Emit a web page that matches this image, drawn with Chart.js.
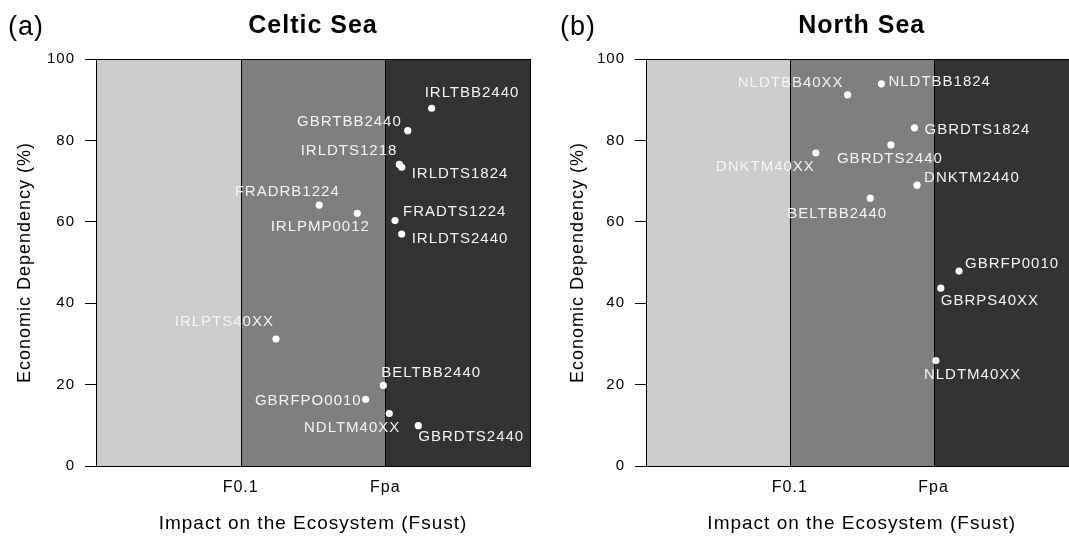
<!DOCTYPE html>
<html lang="en">
<head>
<meta charset="UTF-8">
<title>Economic Dependency vs Impact on the Ecosystem</title>
<script src="https://cdn.jsdelivr.net/npm/chart.js"></script>
<style>
    body {
        margin: 0;
        background: #fff;
        width: 1069px;
        height: 544px;
        overflow: hidden;
        position: relative;
    }
    canvas { position: absolute; top: 0; }
    #celtic { left: 0; }
    #north { left: 540px; }
</style>
</head>
<body>
<canvas id="celtic" width="540" height="544"></canvas>
<canvas id="north" width="541" height="544"></canvas>
<script>
// axis data
const xTickValues = [1, 2];
const xTickLabels = ['F0.1', 'Fpa'];
const bandEdges = [0, 1, 2, 3];
const yTickStep = 20;

// (a) Celtic Sea
const celticNames = ['IRLTBB2440', 'GBRTBB2440', 'IRLDTS1218', 'IRLDTS1824', 'FRADRB1224', 'IRLPMP0012',
    'FRADTS1224', 'IRLDTS2440', 'IRLPTS40XX', 'BELTBB2440', 'GBRFPO0010', 'NDLTM40XX', 'GBRDTS2440'];
const celticX = [2.32, 2.155, 2.097, 2.113, 1.543, 1.806, 2.067, 2.113, 1.244, 1.986, 1.864, 2.027, 2.228];
const celticY = [87.9, 82.4, 74.1, 73.4, 64.1, 62.1, 60.3, 57.0, 31.2, 19.8, 16.4, 12.9, 9.9];

// (b) North Sea
const northNames = ['NLDTBB40XX', 'NLDTBB1824', 'GBRDTS1824', 'GBRDTS2440', 'DNKTM40XX', 'DNKTM2440',
    'BELTBB2440', 'GBRFP0010', 'GBRPS40XX', 'NLDTM40XX'];
const northX = [1.402, 1.637, 1.867, 1.703, 1.181, 1.885, 1.559, 2.177, 2.05, 2.016];
const northY = [91.2, 93.9, 83.1, 78.9, 76.9, 69.0, 65.8, 47.9, 43.7, 25.9];

// label placement next to each point: [align, dx, dy]
const celticLabelPos = [['left', -7, -15], ['right', -6, -9], ['right', -2, -14], ['left', 10, 7],
    ['center', -32, -13], ['center', -37, 14], ['left', 8, -9], ['left', 10, 5], ['right', -2, -17],
    ['left', -2, -13], ['right', -4, 2], ['right', 11, 14], ['left', 0, 11]];
const northLabelPos = [['right', -4, -12], ['left', 7, -2], ['left', 10, 2], ['center', -1, 14],
    ['right', -1, 14], ['left', 7, -7], ['center', -33, 16], ['left', 6, -7], ['left', 0, 13], ['left', -12, 14]];

const bandColors = ['#cccccc', '#7f7f7f', '#333333'];
const FONT = "'Liberation Sans', Arial, sans-serif";

const spacingPlugin = {
    id: 'spacing',
    beforeDraw(chart) { chart.ctx.letterSpacing = '1px'; }
};

const bandsPlugin = {
    id: 'bands',
    beforeDatasetsDraw(chart) {
        const { ctx, chartArea: a } = chart;
        const xs = chart.scales.x;
        ctx.save();
        ctx.lineWidth = 1;
        ctx.strokeStyle = '#000';
        for (let i = 0; i < bandColors.length; i++) {
            const x0 = Math.round(xs.getPixelForValue(bandEdges[i])) + 0.5;
            const x1 = Math.round(xs.getPixelForValue(bandEdges[i + 1])) + 0.5;
            const t = Math.round(a.top) + 0.5, b = Math.round(a.bottom) + 0.5;
            ctx.fillStyle = bandColors[i];
            ctx.fillRect(x0, t, x1 - x0, b - t);
            ctx.strokeRect(x0, t, x1 - x0, b - t);
        }
        ctx.restore();
    }
};

const pointLabelsPlugin = {
    id: 'pointLabels',
    afterDatasetsDraw(chart, args, opts) {
        const { ctx } = chart;
        const meta = chart.getDatasetMeta(0);
        ctx.save();
        ctx.letterSpacing = '1px';
        ctx.font = '15px ' + FONT;
        ctx.fillStyle = '#f4f4f4';
        ctx.textBaseline = 'middle';
        meta.data.forEach((pt, i) => {
            const [align, dx, dy] = opts.pos[i];
            ctx.textAlign = align;
            ctx.fillText(opts.names[i], pt.x + dx, pt.y + dy);
        });
        ctx.restore();
    }
};

const headingPlugin = {
    id: 'heading',
    afterDraw(chart, args, opts) {
        const { ctx, chartArea: a } = chart;
        ctx.save();
        ctx.letterSpacing = '1px';
        ctx.fillStyle = '#000';
        ctx.textBaseline = 'middle';
        ctx.textAlign = 'left';
        ctx.font = '27px ' + FONT;
        ctx.fillText(opts.tag, opts.tagX, 28);
        ctx.textAlign = 'center';
        ctx.font = 'bold 25px ' + FONT;
        ctx.fillText(opts.title, (a.left + a.right) / 2, 26);
        ctx.restore();
    }
};

function makePanel(id, names, xs, ys, labelPos, tag, tagX, title, yAxisWidth, yTitlePad, padRight) {
    return new Chart(document.getElementById(id), {
        type: 'scatter',
        data: {
            datasets: [{
                data: xs.map((x, i) => ({ x: x, y: ys[i] })),
                pointRadius: 3.6,
                pointHoverRadius: 3.6,
                backgroundColor: '#ffffff',
                borderWidth: 0
            }]
        },
        options: {
            responsive: false,
            animation: false,
            layout: { padding: { top: 59, right: padRight, left: 0, bottom: 0 } },
            plugins: {
                legend: { display: false },
                tooltip: { enabled: false },
                pointLabels: { names: names, pos: labelPos },
                heading: { tag: tag, tagX: tagX, title: title }
            },
            scales: {
                x: {
                    type: 'linear',
                    min: bandEdges[0],
                    max: bandEdges[bandEdges.length - 1],
                    afterBuildTicks: s => { s.ticks = xTickValues.map(v => ({ value: v })); },
                    afterFit: s => { s.height = 78; },
                    ticks: {
                        callback: v => xTickLabels[xTickValues.indexOf(v)],
                        color: '#000',
                        font: { family: FONT, size: 16 },
                        padding: 12,
                        maxRotation: 0
                    },
                    grid: { drawOnChartArea: false, drawTicks: false },
                    border: { display: false },
                    title: {
                        display: true,
                        text: 'Impact on the Ecosystem (Fsust)',
                        color: '#000',
                        font: { family: FONT, size: 19 },
                        padding: { top: 0, bottom: 9 }
                    }
                },
                y: {
                    min: 0,
                    max: 100,
                    afterFit: s => { s.width = yAxisWidth; },
                    ticks: {
                        stepSize: yTickStep,
                        color: '#000',
                        font: { family: FONT, size: 15 },
                        padding: 10
                    },
                    grid: { drawOnChartArea: false, drawTicks: true, tickLength: 11, color: '#000' },
                    border: { display: true, color: '#000' },
                    title: {
                        display: true,
                        text: 'Economic Dependency (%)',
                        color: '#000',
                        font: { family: FONT, size: 18 },
                        padding: { top: yTitlePad, bottom: 0 }
                    }
                }
            }
        },
        plugins: [spacingPlugin, bandsPlugin, pointLabelsPlugin, headingPlugin]
    });
}

makePanel('celtic', celticNames, celticX, celticY, celticLabelPos, '(a)', 8, 'Celtic Sea', 96, 14, 10);
makePanel('north', northNames, northX, northY, northLabelPos, '(b)', 20, 'North Sea', 106, 27, 0);
</script>
</body>
</html>
